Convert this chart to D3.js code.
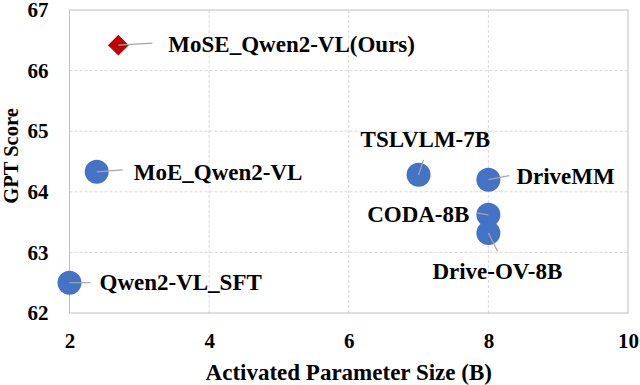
<!DOCTYPE html>
<html><head><meta charset="utf-8">
<script src="https://cdn.jsdelivr.net/npm/d3@7/dist/d3.min.js"></script>
<style>html,body{margin:0;padding:0;background:#fff;}svg{display:block;}
svg text{font-family:"Liberation Serif","Times New Roman",Times,"DejaVu Serif",serif;font-weight:bold;fill:#000;}
</style>
</head><body>
<svg id="c" width="640" height="385"></svg>
<script>
// ---- data ----
const models = ["MoSE_Qwen2-VL(Ours)", "MoE_Qwen2-VL", "Qwen2-VL_SFT", "TSLVLM-7B", "DriveMM", "CODA-8B", "Drive-OV-8B"];
const paramSize = [2.7, 2.39, 2.0, 7.0, 8.0, 8.0, 8.0];
const gptScore = [66.42, 64.33, 62.50, 64.28, 64.20, 63.62, 63.32];
const isOurs = [true, false, false, false, false, false, false];
const xTicks = [2, 4, 6, 8, 10];
const yTicks = [62, 63, 64, 65, 66, 67];
const xTitle = "Activated Parameter Size (B)";
const yTitle = "GPT Score";

// ---- layout (pixel offsets of labels / leader lines relative to point) ----
const labelLayout = [
  {dx: 50, dy: 7, anchor: "start", lx: 34, ly: -2},
  {dx: 37, dy: 8, anchor: "start", lx: 26, ly: -2},
  {dx: 30, dy: 7.5, anchor: "start", lx: 21, ly: 0},
  {dx: -58, dy: -28, anchor: "start", lx: 5, ly: -15},
  {dx: 28, dy: 4, anchor: "start", lx: 21, ly: -4},
  {dx: -19, dy: 7, anchor: "end", lx: -12, ly: -2},
  {dx: -56, dy: 46, anchor: "start", lx: 9, ly: 18}
];

const svg = d3.select("#c");
const L = 69.5, R = 628, T = 10, B = 313;
const x = d3.scaleLinear().domain([2, 10]).range([L, R]);
const y = d3.scaleLinear().domain([62, 67]).range([B, T]);

// grid
const g = svg.append("g");
g.selectAll(".hg").data(yTicks.slice(1, -1)).join("line")
  .attr("x1", L).attr("x2", R).attr("y1", d => y(d)).attr("y2", d => y(d))
  .attr("stroke", "#d9d9d9").attr("stroke-width", 1).attr("stroke-dasharray", "3,2");
g.selectAll(".vg").data(xTicks.slice(1, -1)).join("line")
  .attr("y1", T).attr("y2", B).attr("x1", d => x(d)).attr("x2", d => x(d))
  .attr("stroke", "#d9d9d9").attr("stroke-width", 1).attr("stroke-dasharray", "3,2");
// frame
svg.append("rect").attr("x", L).attr("y", T).attr("width", R - L).attr("height", B - T)
  .attr("fill", "none").attr("stroke", "#bfbfbf").attr("stroke-width", 1);

// axes
const xAxis = svg.append("g").attr("transform", `translate(0,${B})`)
  .call(d3.axisBottom(x).tickValues(xTicks).tickSize(0).tickPadding(20).tickFormat(d3.format("d")));
const yAxis = svg.append("g").attr("transform", `translate(${L},0)`)
  .call(d3.axisLeft(y).tickValues(yTicks).tickSize(0).tickPadding(21).tickFormat(d3.format("d")));
[xAxis, yAxis].forEach(a => {
  a.select(".domain").remove();
  a.attr("font-family", null).attr("font-size", null);
  a.selectAll("text").attr("font-size", 21);
});

// axis titles
svg.append("text").attr("x", (L + R) / 2).attr("y", 380).attr("text-anchor", "middle")
  .attr("font-size", 23).text(xTitle);
svg.append("text").attr("transform", `translate(18,${156}) rotate(-90)`).attr("text-anchor", "middle")
  .attr("font-size", 20.5).text(yTitle);

// points
const pts = models.map((m, i) => ({name: m, x: paramSize[i], y: gptScore[i], ours: isOurs[i], lay: labelLayout[i]}));
const pg = svg.append("g");
pg.selectAll("circle").data(pts.filter(d => !d.ours)).join("circle")
  .attr("cx", d => x(d.x)).attr("cy", d => y(d.y)).attr("r", 12).attr("fill", "#4472C4");
pg.selectAll("path").data(pts.filter(d => d.ours)).join("path")
  .attr("d", d3.symbol().type(d3.symbolDiamond2).size(2 * 11.7 * 11.7))
  .attr("transform", d => `translate(${x(d.x)},${y(d.y)})`)
  .attr("fill", "#C00000");

// leader lines
svg.append("g").selectAll("line").data(pts).join("line")
  .attr("x1", d => x(d.x)).attr("y1", d => y(d.y))
  .attr("x2", d => x(d.x) + d.lay.lx).attr("y2", d => y(d.y) + d.lay.ly)
  .attr("stroke", "#a6a6a6").attr("stroke-width", 1.2);

// labels
svg.append("g").selectAll("text").data(pts).join("text")
  .attr("x", d => x(d.x) + d.lay.dx).attr("y", d => y(d.y) + d.lay.dy)
  .attr("text-anchor", d => d.lay.anchor)
  .attr("font-size", 23)
  .text(d => d.name);
</script>
</body></html>
